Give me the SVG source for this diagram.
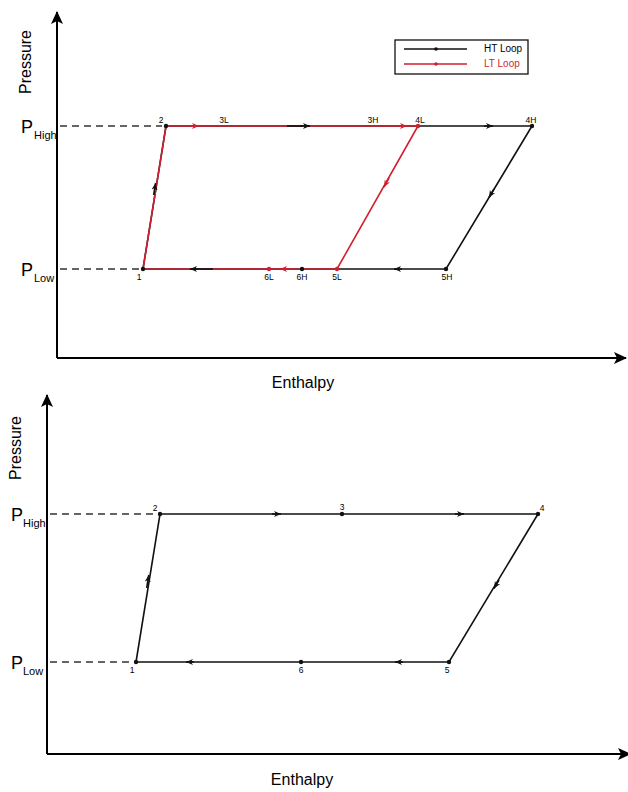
<svg xmlns="http://www.w3.org/2000/svg" width="628" height="792" viewBox="0 0 628 792">
<style>
  text { font-family: "Liberation Sans", Arial, sans-serif; fill: #000; }
  .ax { stroke: #000; stroke-width: 2; fill: none; }
  .dash { stroke: #333; stroke-width: 1.3; stroke-dasharray: 7 5; fill: none; }
  .blk { stroke: #111; stroke-width: 1.6; fill: none; }
  .red { stroke: #d11f2f; stroke-width: 1.6; fill: none; }
  .axl { font-size: 16px; }
  .p { font-size: 18px; }
  .sub { font-size: 11px; }
  .pt { font-size: 8.5px; }
  .leg { font-size: 10px; }
</style>
<defs>
  <marker id="axarrow" markerWidth="14" markerHeight="12" refX="12" refY="6" orient="auto" markerUnits="userSpaceOnUse">
    <path d="M0,0 L13,6 L0,12 L3,6 Z" fill="#000"/>
  </marker>
  <marker id="mb" markerWidth="8" markerHeight="8" refX="7" refY="4" orient="auto" markerUnits="userSpaceOnUse">
    <path d="M0,1 L7,4 L0,7 L2,4 Z" fill="#111"/>
  </marker>
  <marker id="mr" markerWidth="8" markerHeight="8" refX="7" refY="4" orient="auto" markerUnits="userSpaceOnUse">
    <path d="M0,1 L7,4 L0,7 L2,4 Z" fill="#d11f2f"/>
  </marker>
</defs>

<!-- ===== TOP DIAGRAM ===== -->
<g id="top-axes">
  <path class="ax" d="M57,358 L57,12" marker-end="url(#axarrow)"/>
  <path class="ax" d="M57,358 L626,358" marker-end="url(#axarrow)"/>
  <text class="axl" transform="translate(31,62) rotate(-90)" text-anchor="middle">Pressure</text>
  <text class="axl" x="303" y="388" text-anchor="middle">Enthalpy</text>
  <text class="p" x="21" y="133">P</text>
  <text class="sub" x="34" y="139">High</text>
  <text class="p" x="21" y="276">P</text>
  <text class="sub" x="34" y="282">Low</text>
</g>

<g id="top-legend">
  <rect x="395" y="40" width="133" height="34" fill="#fff" stroke="#111" stroke-width="1.3"/>
  <line x1="404" y1="49" x2="467" y2="49" class="blk"/>
  <circle cx="436" cy="49" r="1.8" fill="#111"/>
  <line x1="404" y1="64" x2="467" y2="64" class="red"/>
  <circle cx="436" cy="64" r="1.8" fill="#d11f2f"/>
  <text class="leg" x="484" y="52">HT Loop</text>
  <text class="leg" x="484" y="67" style="fill:#d11f2f">LT Loop</text>
</g>

<g id="top-connectors">
  <path class="dash" d="M60,126 L162,126"/>
  <path class="dash" d="M60,269 L140,269"/>
  <!-- HT loop -->
  <path class="blk" d="M143,269 L166,126 L532,126 L446,269 Z"/>
  <!-- LT loop -->
  <path class="red" d="M143,269 L166,126 L418,126 L337,269 Z"/>
  <line x1="287" y1="126" x2="302" y2="126" class="blk"/>
  <line x1="192" y1="269" x2="213" y2="269" class="blk"/>
  <!-- direction arrows -->
  <path d="M153.7,195 L155.6,183" class="blk" marker-end="url(#mb)"/>
  <path d="M190,126 L199,126" class="red" marker-end="url(#mr)"/>
  <path d="M300,126 L310,126" class="blk" marker-end="url(#mb)"/>
  <path d="M398,126 L407,126" class="red" marker-end="url(#mr)"/>
  <path d="M484,126 L493,126" class="blk" marker-end="url(#mb)"/>
  <path d="M494,189 L489,197.5" class="blk" marker-end="url(#mb)"/>
  <path d="M389,178 L384,187" class="red" marker-end="url(#mr)"/>
  <path d="M402,269 L394,269" class="blk" marker-end="url(#mb)"/>
  <path d="M288,269 L280,269" class="red" marker-end="url(#mr)"/>
  <path d="M198,269 L190,269" class="blk" marker-end="url(#mb)"/>
</g>

<g id="top-points">
  <circle cx="143" cy="269" r="2.2" fill="#111"/>
  <circle cx="166" cy="126" r="2.2" fill="#111"/>
  <circle cx="418" cy="126" r="2.2" fill="#d11f2f"/>
  <circle cx="532" cy="126" r="2.2" fill="#111"/>
  <circle cx="337" cy="269" r="2.2" fill="#d11f2f"/>
  <circle cx="446" cy="269" r="2.2" fill="#111"/>
  <circle cx="269" cy="269" r="2.2" fill="#d11f2f"/>
  <circle cx="302" cy="269" r="2.2" fill="#111"/>
  <text class="pt" x="161" y="123" text-anchor="middle">2</text>
  <text class="pt" x="224" y="123" text-anchor="middle">3L</text>
  <text class="pt" x="373" y="123" text-anchor="middle">3H</text>
  <text class="pt" x="420" y="123" text-anchor="middle">4L</text>
  <text class="pt" x="531" y="123" text-anchor="middle">4H</text>
  <text class="pt" x="139" y="280" text-anchor="middle">1</text>
  <text class="pt" x="269" y="280" text-anchor="middle">6L</text>
  <text class="pt" x="302" y="280" text-anchor="middle">6H</text>
  <text class="pt" x="337" y="280" text-anchor="middle">5L</text>
  <text class="pt" x="447" y="280" text-anchor="middle">5H</text>
</g>

<!-- ===== BOTTOM DIAGRAM ===== -->
<g id="bottom-axes">
  <path class="ax" d="M47,754 L47,395" marker-end="url(#axarrow)"/>
  <path class="ax" d="M47,754 L630,754" marker-end="url(#axarrow)"/>
  <text class="axl" transform="translate(21,448) rotate(-90)" text-anchor="middle">Pressure</text>
  <text class="axl" x="302" y="785" text-anchor="middle">Enthalpy</text>
  <text class="p" x="11" y="521">P</text>
  <text class="sub" x="23" y="527">High</text>
  <text class="p" x="11" y="669">P</text>
  <text class="sub" x="23" y="675">Low</text>
</g>

<g id="bottom-connectors">
  <path class="dash" d="M50,514 L154,514"/>
  <path class="dash" d="M50,662 L132,662"/>
  <path class="blk" d="M136,662 L160,514 L538,514 L449,662 Z"/>
  <path d="M146.7,588 L148.8,575" class="blk" marker-end="url(#mb)"/>
  <path d="M272,514 L281,514" class="blk" marker-end="url(#mb)"/>
  <path d="M455,514 L464,514" class="blk" marker-end="url(#mb)"/>
  <path d="M499,580 L494,588.5" class="blk" marker-end="url(#mb)"/>
  <path d="M403,662 L395,662" class="blk" marker-end="url(#mb)"/>
  <path d="M194,662 L186,662" class="blk" marker-end="url(#mb)"/>
</g>

<g id="bottom-points">
  <circle cx="136" cy="662" r="2.2" fill="#111"/>
  <circle cx="160" cy="514" r="2.2" fill="#111"/>
  <circle cx="342" cy="514" r="2.2" fill="#111"/>
  <circle cx="538" cy="514" r="2.2" fill="#111"/>
  <circle cx="449" cy="662" r="2.2" fill="#111"/>
  <circle cx="301" cy="662" r="2.2" fill="#111"/>
  <text class="pt" x="155" y="511" text-anchor="middle">2</text>
  <text class="pt" x="342" y="510" text-anchor="middle">3</text>
  <text class="pt" x="542" y="511" text-anchor="middle">4</text>
  <text class="pt" x="132" y="673" text-anchor="middle">1</text>
  <text class="pt" x="301" y="673" text-anchor="middle">6</text>
  <text class="pt" x="447" y="673" text-anchor="middle">5</text>
</g>
</svg>
